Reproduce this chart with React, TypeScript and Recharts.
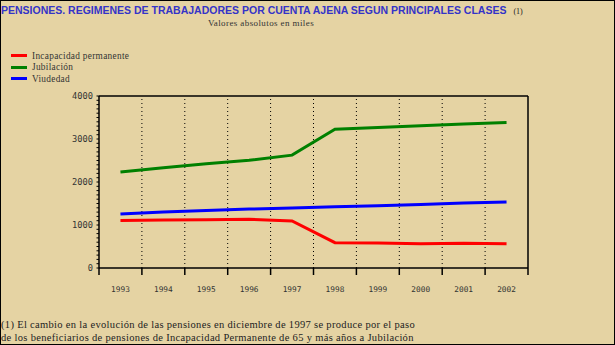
import {
  Line,
  LineChart,
  ReferenceLine,
  XAxis,
  YAxis,
} from "recharts";

// Pensiones por clase, valores absolutos en miles (1993-2002)
const years = ["1993", "1994", "1995", "1996", "1997", "1998", "1999", "2000", "2001", "2002"];
const incapacidad = [1105, 1115, 1122, 1135, 1095, 590, 582, 565, 575, 562];
const jubilacion = [2230, 2330, 2425, 2505, 2625, 3225, 3265, 3310, 3350, 3385];
const viudedad = [1255, 1300, 1335, 1370, 1398, 1425, 1450, 1475, 1510, 1535];

const yTicks = Array.from({ length: 41 }, (_, i) => i * 100);
const yLabels = [0, 1000, 2000, 3000, 4000];
const bandEdges = years.map((_, i) => i).concat(years.length);
const bandCenters = years.map((_, i) => i + 0.5);
const xTicks = [...bandEdges, ...bandCenters].sort((a, b) => a - b);

const series = [
  { key: "incapacidad", name: "Incapacidad permanente", color: "#ff0000" },
  { key: "jubilacion", name: "Jubilación", color: "#008000" },
  { key: "viudedad", name: "Viudedad", color: "#0000ff" },
];

const data = years.map((year, i) => ({
  x: i + 0.5,
  year,
  incapacidad: incapacidad[i],
  jubilacion: jubilacion[i],
  viudedad: viudedad[i],
}));

const BG = "#e5d3a3";
const TICK_FONT = "'DejaVu Sans Mono', monospace";

// tickSize/tickMargin are 0, so x is the axis line itself
function YTick({ x, y, payload }: any) {
  const major = yLabels.includes(payload.value);
  return (
    <g>
      <line x1={x - 2.5} x2={x} y1={y} y2={y} stroke="#000" />
      {major && (
        <text x={x - 6} y={y + 3} textAnchor="end" fontSize={8.7} fontFamily={TICK_FONT} fill="#333">
          {payload.value}
        </text>
      )}
    </g>
  );
}

function XTick({ x, y, payload }: any) {
  const v = payload.value as number;
  if (Number.isInteger(v)) {
    return <line x1={x} x2={x} y1={y} y2={y + 7} stroke="#000" strokeWidth={1.5} />;
  }
  return (
    <text x={x} y={y + 24} textAnchor="middle" fontSize={7.8} fontFamily={TICK_FONT} fill="#333">
      {years[Math.floor(v)]}
    </text>
  );
}

export default function App() {
  return (
    <div
      style={{
        position: "absolute",
        left: 0,
        top: 0,
        width: 615,
        height: 345,
        boxSizing: "border-box",
        border: "1px solid #000",
        background: BG,
        overflow: "hidden",
        fontFamily: "'Liberation Serif', serif",
        color: "#333",
      }}
    >
      <div style={{ position: "absolute", left: 0, top: 0, whiteSpace: "nowrap", lineHeight: "16px" }}>
        <span
          style={{
            fontFamily: "'Liberation Sans', Arial, sans-serif",
            fontWeight: "bold",
            fontSize: 10.5,
            color: "#3434c8",
          }}
        >
          PENSIONES. REGIMENES DE TRABAJADORES POR CUENTA AJENA SEGUN PRINCIPALES CLASES
        </span>
        <span style={{ fontSize: 8, color: "#222", marginLeft: 7 }}>(1)</span>
      </div>
      <div
        style={{
          position: "absolute",
          left: 0,
          width: 520,
          top: 17,
          textAlign: "center",
          fontSize: 9,
          letterSpacing: 0.4,
          whiteSpace: "nowrap",
        }}
      >
        Valores absolutos en miles
      </div>
      {series.map((s, i) => (
        <div
          key={s.key}
          style={{ position: "absolute", left: 10, top: 49 + i * 11.5, height: 11, display: "flex", alignItems: "center" }}
        >
          <div style={{ width: 16, height: 3, background: s.color, marginRight: 5 }} />
          <span style={{ fontSize: 9.3, letterSpacing: 0.3, whiteSpace: "nowrap" }}>{s.name}</span>
        </div>
      ))}
      <div style={{ position: "absolute", left: -1, top: 0 }}>
        <LineChart width={615} height={345} data={data} margin={{ top: 95, right: 87, bottom: 48, left: 39 }}>
          <XAxis
            dataKey="x"
            type="number"
            domain={[0, years.length]}
            ticks={xTicks}
            interval={0}
            tick={<XTick />}
            tickLine={false}
            tickSize={0}
            tickMargin={0}
            height={30}
            axisLine={{ stroke: "#000", strokeWidth: 1.5 }}
          />
          <YAxis
            type="number"
            domain={[0, 4000]}
            ticks={yTicks}
            interval={0}
            width={60}
            tick={<YTick />}
            tickLine={false}
            tickSize={0}
            tickMargin={0}
            axisLine={{ stroke: "#000", strokeWidth: 1.5 }}
          />
          {bandEdges.slice(1, -1).map((v) => (
            <ReferenceLine key={v} x={v} stroke="#000" strokeDasharray="1 3" />
          ))}
          <ReferenceLine y={4000} stroke="#000" strokeWidth={1.5} />
          <ReferenceLine x={years.length} stroke="#000" strokeWidth={1.5} />
          {series.map((s) => (
            <Line
              key={s.key}
              dataKey={s.key}
              name={s.name}
              stroke={s.color}
              strokeWidth={3}
              dot={false}
              type="linear"
              isAnimationActive={false}
            />
          ))}
        </LineChart>
      </div>
      <div
        style={{
          position: "absolute",
          left: 0,
          top: 317,
          fontSize: 10.5,
          lineHeight: "13px",
          letterSpacing: 0.32,
          whiteSpace: "nowrap",
          color: "#222",
        }}
      >
        <div>(1) El cambio en la evolución de las pensiones en diciembre de 1997 se produce por el paso</div>
        <div>de los beneficiarios de pensiones de Incapacidad Permanente de 65 y más años a Jubilación</div>
      </div>
    </div>
  );
}
